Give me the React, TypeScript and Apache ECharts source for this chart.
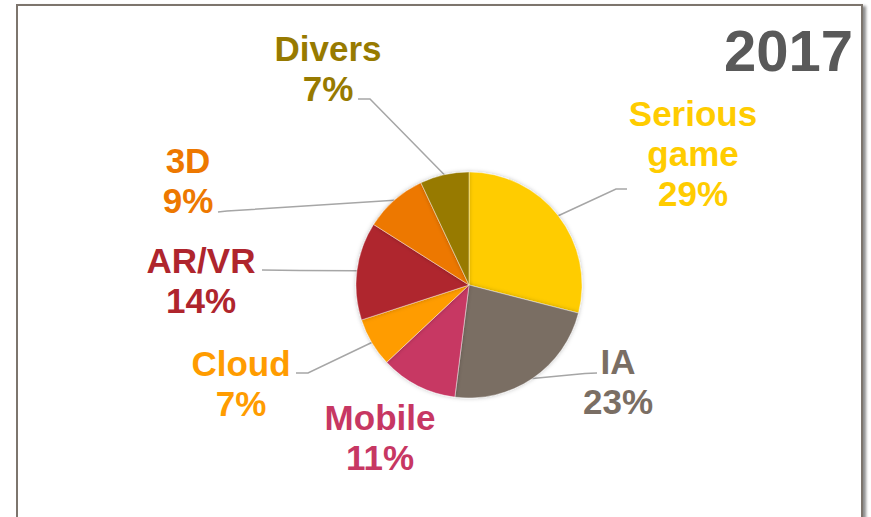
import React, { useEffect, useRef } from "react";
import * as echarts from "echarts";

const categories = ["Serious game", "IA", "Mobile", "Cloud", "AR/VR", "3D", "Divers"];
const values = [29, 23, 11, 7, 14, 9, 7];
const colors = ["#FFCC00", "#7A6E64", "#C73763", "#FF9C00", "#AF252D", "#ED7800", "#977A00"];
const yearLabel = "2017";

// label layout (centre of text block, leader line bend and end)
const labelLayouts: { x: number; y: number; line: number[][] | null }[] = [
  { x: 693, y: 153, line: [[616, 189], [627, 189]] },
  { x: 618, y: 381, line: [[585, 373.5], [597, 373]] },
  { x: 380, y: 437, line: null },
  { x: 241, y: 383, line: [[308, 373], [296, 373]] },
  { x: 201, y: 280, line: [[300, 270.5], [262, 270]] },
  { x: 188, y: 180, line: [[227, 211], [218, 212]] },
  { x: 328, y: 68, line: [[370, 99], [358, 99]] },
];

export default function App() {
  const ref = useRef<HTMLDivElement>(null);
  useEffect(() => {
    if (!ref.current) return;
    const chart = echarts.init(ref.current, null, { renderer: "svg" });
    const font = '"Liberation Sans", Arial, sans-serif';
    chart.setOption({
      animation: false,
      backgroundColor: "#ffffff",
      graphic: [
        {
          type: "rect",
          shape: { x: 17, y: 5, width: 845, height: 620 },
          style: {
            fill: "#ffffff",
            stroke: "#7D756D",
            lineWidth: 2,
            shadowBlur: 3,
            shadowOffsetX: 3,
            shadowOffsetY: 2,
            shadowColor: "rgba(0,0,0,0.45)",
          },
          z: -10,
        },
        {
          type: "text",
          x: 853,
          y: 50,
          style: {
            text: yearLabel,
            fill: "#595959",
            font: `bold 58px ${font}`,
            align: "right",
            verticalAlign: "middle",
          },
        },
      ],
      series: [
        {
          type: "pie",
          center: [469, 285],
          radius: 113,
          startAngle: 90,
          clockwise: true,
          avoidLabelOverlap: false,
          itemStyle: {
            borderColor: "#ffffff",
            borderWidth: 0.4,
            shadowBlur: 4,
            shadowColor: "rgba(0,0,0,0.25)",
          },
          label: {
            show: true,
            position: "outside",
            fontFamily: font,
            fontWeight: "bold",
            fontSize: 35,
            lineHeight: 40,
            align: "center",
            formatter: (p: any) => `${String(p.name).replace(" ", "\n")}\n${p.value}%`,
          },
          labelLine: {
            show: true,
            length: 20,
            length2: 10,
            smooth: false,
            lineStyle: { color: "#A6A6A6", width: 1.5 },
          },
          labelLayout: (params: any) => {
            const L = labelLayouts[params.dataIndex];
            const start = params.labelLinePoints ? params.labelLinePoints[0] : null;
            const out: any = { x: L.x, y: L.y, align: "center", verticalAlign: "middle" };
            if (start && L.line) out.labelLinePoints = [start, L.line[0], L.line[1]];
            return out;
          },
          data: categories.map((name, i) => ({
            name,
            value: values[i],
            itemStyle: { color: colors[i] },
            label: { color: colors[i] },
            labelLine: { show: labelLayouts[i].line !== null },
          })),
        },
      ],
    });
    return () => chart.dispose();
  }, []);
  return (
    <div
      ref={ref}
      style={{ position: "fixed", left: 0, top: 0, width: 871, height: 517 }}
    />
  );
}
